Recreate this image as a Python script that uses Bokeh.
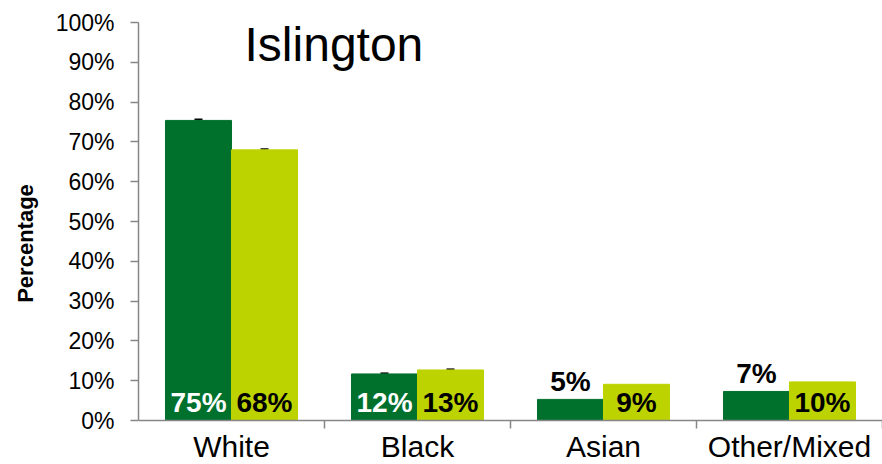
from bokeh.plotting import figure
from bokeh.models import (FactorRange, Range1d, ColumnDataSource, Whisker, TeeHead,
                          Span, Label)
from bokeh.transform import dodge
from bokeh.embed import file_html
from bokeh.resources import INLINE
from bokeh.core.properties import value

# ---- data ----
categories = ["White", "Black", "Asian", "Other/Mixed"]
dark_values = [75.4, 11.7, 5.3, 7.3]
light_values = [68.0, 12.7, 9.1, 9.7]
dark_errors = [0.3, 0.2, 0.0, 0.0]
light_errors = [0.2, 0.2, 0.0, 0.0]
y_ticks = [0, 10, 20, 30, 40, 50, 60, 70, 80, 90, 100]
title_text = "Islington"
y_label = "Percentage"

DARK = "#00702D"
LIGHT = "#BDD300"
AXIS = "#868686"
FONT = "Liberation Sans"

W, H = 882, 464
PX_PER_UNIT = 3.98           # 398 px for 0..100
y_min = -(H - 420) / PX_PER_UNIT

p = figure(width=W, height=H, output_backend="svg", toolbar_location=None,
           x_range=FactorRange(factors=categories, range_padding=0),
           y_range=Range1d(y_min, 100), x_axis_location=None,
           min_border_left=138, min_border_right=0, min_border_top=22, min_border_bottom=0)
p.outline_line_color = None
p.xgrid.grid_line_color = None
p.ygrid.grid_line_color = None
p.background_fill_color = "white"
p.border_fill_color = "white"

half = 0.355
off = 0.1774

src = ColumnDataSource(dict(
    cat=categories,
    zero=[0] * len(categories),
    sep_low=[-8 / PX_PER_UNIT] * len(categories),
    dark=dark_values,
    light=light_values,
    dark_lab=[f"{round(v)}%" for v in dark_values],
    light_lab=[f"{round(v)}%" for v in light_values],
    dark_y=[0 if v >= 10 else v for v in dark_values],
    dark_col=["white" if v >= 10 else "black" for v in dark_values],
))

p.vbar(x=dodge("cat", -off, range=p.x_range), top="dark", width=half, bottom=0,
       source=src, fill_color=DARK, line_color=DARK)
p.vbar(x=dodge("cat", off, range=p.x_range), top="light", width=half, bottom=0,
       source=src, fill_color=LIGHT, line_color=LIGHT)

# error bars
def err_source(vals, errs):
    cats = [c for c, e in zip(categories, errs) if e > 0]
    up = [v + e for v, e in zip(vals, errs) if e > 0]
    lo = [v - e for v, e in zip(vals, errs) if e > 0]
    return ColumnDataSource(dict(cat=cats, upper=up, lower=lo))

for vals, errs, o in ((dark_values, dark_errors, -off), (light_values, light_errors, off)):
    es = err_source(vals, errs)
    w = Whisker(source=es, base=dodge("cat", o, range=p.x_range), upper="upper", lower="lower",
                line_color="black", line_width=1.5,
                upper_head=TeeHead(size=8, line_width=1.5, line_color="black"),
                lower_head=TeeHead(size=8, line_width=1.5, line_color="black"))
    p.add_layout(w)

# value labels
lab_size = "28px"
p.text(x=dodge("cat", -off, range=p.x_range), y="dark_y", text="dark_lab", source=src,
       text_color="dark_col", text_font=value(FONT), text_font_style="bold",
       text_font_size=lab_size, text_align="center", text_baseline="alphabetic", y_offset=-18)
p.text(x=dodge("cat", off, range=p.x_range), y="zero", text="light_lab", source=src,
       text_color="black", text_font=value(FONT), text_font_style="bold",
       text_font_size=lab_size, text_align="center", text_baseline="alphabetic", y_offset=-18)

# x axis line, category separators and category labels
p.add_layout(Span(location=0, dimension="width", line_color=AXIS, line_width=1.5))
p.segment(x0=dodge("cat", 0.5, range=p.x_range), x1=dodge("cat", 0.5, range=p.x_range),
          y0="zero", y1="sep_low", source=src, line_color=AXIS, line_width=1.5)
p.text(x="cat", y="zero", text="cat", source=src, text_color="black",
       text_font=value(FONT), text_font_size="30px", text_align="center",
       text_baseline="alphabetic", y_offset=26)

# title
p.add_layout(Label(x=0.57, y=94.5, text=title_text, text_font=FONT, text_font_size="48px",
                   text_baseline="alphabetic", text_color="black"))

# y axis
ya = p.yaxis[0]
ya.ticker = y_ticks
ya.major_label_overrides = {t: f"{t}%" for t in y_ticks}
ya.bounds = (0, 100)
ya.axis_line_color = AXIS
ya.axis_line_width = 1.5
ya.major_tick_line_color = AXIS
ya.major_tick_line_width = 1.5
ya.major_tick_in = 0
ya.major_tick_out = 8
ya.minor_tick_line_color = None
ya.major_label_text_font = FONT
ya.major_label_text_font_size = "23px"
ya.major_label_text_color = "black"
ya.major_label_standoff = 16
ya.axis_label = y_label
ya.axis_label_text_font = FONT
ya.axis_label_text_font_style = "bold"
ya.axis_label_text_font_size = "22px"
ya.axis_label_text_color = "black"
ya.axis_label_standoff = 15

open("out.html", "w").write(file_html(p, INLINE))
